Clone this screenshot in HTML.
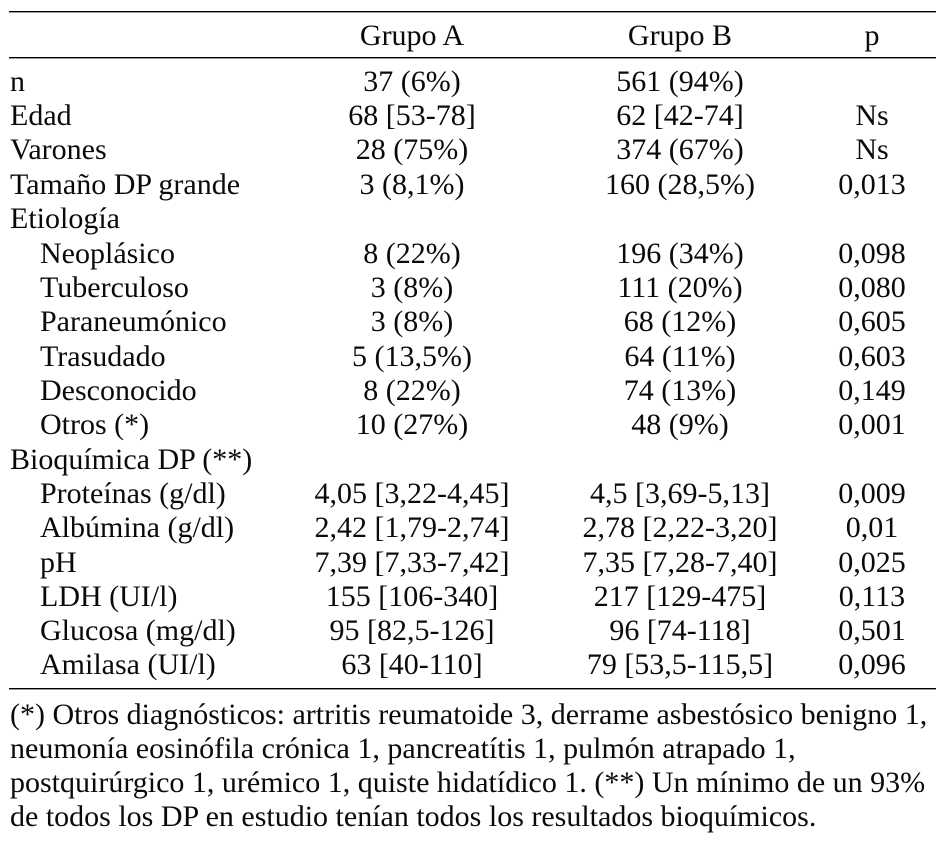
<!DOCTYPE html>
<html lang="es">
<head>
<meta charset="utf-8">
<title>Tabla</title>
<style>
html,body{margin:0;padding:0;background:#fff}
#page{position:relative;width:936px;height:844px;overflow:hidden;background:#fff;color:#0a0a0a;font-family:"Liberation Serif",serif;font-size:30px;line-height:34px}
.rule{position:absolute;left:9px;right:0;height:1px;background:#000;box-shadow:0 1px 0 #999}
.row{position:absolute;left:0;width:936px;height:34px}
.row span{position:absolute;top:0;white-space:nowrap}
.l{left:10px}
.i{left:40px}
.a,.b,.p{width:300px;text-align:center}
.a{left:262px}
.b{left:530px}
.p{left:722px}
.f{position:absolute;left:10px;white-space:nowrap}
</style>
</head>
<body>
<div id="page">
<div class="rule" style="top:11px"></div>
<div class="rule" style="top:57px"></div>
<div class="rule" style="top:688px"></div>

<div class="row" style="top:19px"><span class="a">Grupo A</span><span class="b">Grupo B</span><span class="p">p</span></div>
<div class="row" style="top:65px"><span class="l">n</span><span class="a">37 (6%)</span><span class="b">561 (94%)</span></div>
<div class="row" style="top:99px"><span class="l">Edad</span><span class="a">68 [53-78]</span><span class="b">62 [42-74]</span><span class="p">Ns</span></div>
<div class="row" style="top:133px"><span class="l">Varones</span><span class="a">28 (75%)</span><span class="b">374 (67%)</span><span class="p">Ns</span></div>
<div class="row" style="top:168px"><span class="l">Tamaño DP grande</span><span class="a">3 (8,1%)</span><span class="b">160 (28,5%)</span><span class="p">0,013</span></div>
<div class="row" style="top:202px"><span class="l">Etiología</span></div>
<div class="row" style="top:237px"><span class="i">Neoplásico</span><span class="a">8 (22%)</span><span class="b">196 (34%)</span><span class="p">0,098</span></div>
<div class="row" style="top:271px"><span class="i">Tuberculoso</span><span class="a">3 (8%)</span><span class="b">111 (20%)</span><span class="p">0,080</span></div>
<div class="row" style="top:305px"><span class="i">Paraneumónico</span><span class="a">3 (8%)</span><span class="b">68 (12%)</span><span class="p">0,605</span></div>
<div class="row" style="top:340px"><span class="i">Trasudado</span><span class="a">5 (13,5%)</span><span class="b">64 (11%)</span><span class="p">0,603</span></div>
<div class="row" style="top:374px"><span class="i">Desconocido</span><span class="a">8 (22%)</span><span class="b">74 (13%)</span><span class="p">0,149</span></div>
<div class="row" style="top:408px"><span class="i">Otros (*)</span><span class="a">10 (27%)</span><span class="b">48 (9%)</span><span class="p">0,001</span></div>
<div class="row" style="top:443px"><span class="l">Bioquímica DP (**)</span></div>
<div class="row" style="top:477px"><span class="i">Proteínas (g/dl)</span><span class="a">4,05 [3,22-4,45]</span><span class="b">4,5 [3,69-5,13]</span><span class="p">0,009</span></div>
<div class="row" style="top:511px"><span class="i">Albúmina (g/dl)</span><span class="a">2,42 [1,79-2,74]</span><span class="b">2,78 [2,22-3,20]</span><span class="p">0,01</span></div>
<div class="row" style="top:546px"><span class="i">pH</span><span class="a">7,39 [7,33-7,42]</span><span class="b">7,35 [7,28-7,40]</span><span class="p">0,025</span></div>
<div class="row" style="top:580px"><span class="i">LDH (UI/l)</span><span class="a">155 [106-340]</span><span class="b">217 [129-475]</span><span class="p">0,113</span></div>
<div class="row" style="top:614px"><span class="i">Glucosa (mg/dl)</span><span class="a">95 [82,5-126]</span><span class="b">96 [74-118]</span><span class="p">0,501</span></div>
<div class="row" style="top:648px"><span class="i">Amilasa (UI/l)</span><span class="a">63 [40-110]</span><span class="b">79 [53,5-115,5]</span><span class="p">0,096</span></div>

<div class="f" style="top:698px">(*) Otros diagnósticos: artritis reumatoide 3, derrame asbestósico benigno 1,</div>
<div class="f" style="top:732px">neumonía eosinófila crónica 1, pancreatítis 1, pulmón atrapado 1,</div>
<div class="f" style="top:766px">postquirúrgico 1, urémico 1, quiste hidatídico 1. (**) Un mínimo de un 93%</div>
<div class="f" style="top:800px">de todos los DP en estudio tenían todos los resultados bioquímicos.</div>
</div>
</body>
</html>
